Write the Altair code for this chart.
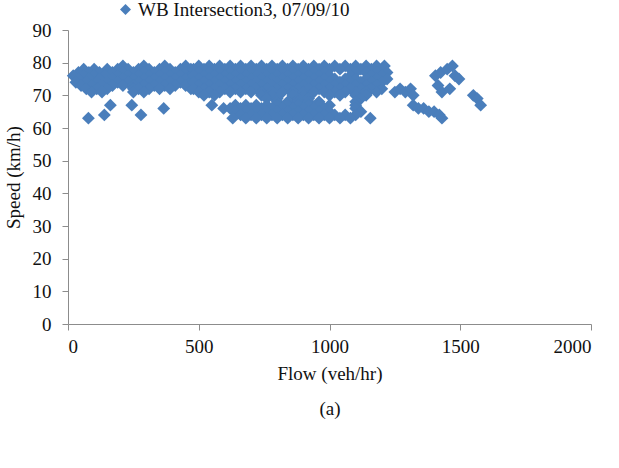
import altair as alt
import pandas as pd

SERIES = "WB Intersection3, 07/09/10"
BLUE = "#4A7EBB"
FONT = "Liberation Serif"

# Speed levels (km/h) and, for each level, the observed flows (veh/hr)
# in the free-flow band up to about 480 veh/hr
left_band = {
    79: [210, 290, 370, 450],
    78: [60, 100, 150, 190, 230, 270, 310, 350, 390, 430, 470],
    77: [40, 80, 120, 170, 210, 250, 290, 330, 370, 410, 450],
    76: [20, 60, 100, 140, 190, 230, 270, 310, 350, 390, 430, 470],
    75: [40, 80, 120, 170, 210, 250, 290, 330, 370, 410, 450],
    74: [30, 70, 110, 150, 190, 230, 270, 310, 350, 390, 430, 470],
    73: [50, 90, 130, 170, 210, 250, 290, 330, 370, 410, 450],
    72: [70, 110, 150, 250, 270, 310, 350, 390, 470],
    71: [90, 130, 250, 290],
}

# Main band between about 480 and 1220 veh/hr
mid_band = {
    79: [500, 540, 580, 620, 660, 700, 740, 780, 820, 860, 900, 940, 980, 1020, 1060, 1100, 1140, 1180, 1210],
    78: [480, 520, 560, 600, 640, 680, 720, 760, 800, 840, 880, 920, 960, 1000, 1040, 1080, 1120, 1160, 1200],
    77: [500, 540, 580, 620, 660, 700, 740, 780, 820, 860, 900, 940, 980, 1100, 1140, 1180, 1220],
    76: [480, 520, 560, 600, 640, 680, 720, 760, 800, 840, 880, 920, 960, 1000, 1080, 1160, 1200],
    75: [500, 540, 580, 620, 660, 700, 740, 780, 820, 860, 900, 940, 980, 1020, 1060, 1100, 1140, 1180, 1220],
    74: [480, 520, 560, 600, 640, 680, 720, 760, 800, 840, 880, 920, 960, 1000, 1040, 1080, 1120, 1160, 1200],
    73: [500, 540, 580, 620, 660, 700, 740, 780, 820, 860, 900, 940, 980, 1020, 1060, 1100, 1140, 1180],
    72: [480, 520, 560, 600, 640, 680, 720, 760, 800, 840, 880, 920, 960, 1000, 1040, 1080, 1120, 1160, 1200],
    71: [500, 540, 580, 620, 660, 700, 740, 780, 820, 860, 900, 940, 980, 1020, 1060, 1100, 1140, 1180],
    70: [520, 560, 740, 780, 860, 900, 1000, 1040, 1100, 1140],
}

# Congested observations below the main band
lower_band = {
    69: [760, 800, 880, 920, 1120],
    68: [800, 840, 880, 920, 960, 1100],
    67: [550, 640, 680, 720, 760, 800, 840, 880, 920, 960, 1000, 1100],
    66: [595, 620, 660, 700, 740, 780, 820, 860, 900, 940, 980, 1100],
    65: [640, 680, 720, 760, 800, 840, 880, 920, 960, 1000, 1120],
    64: [660, 700, 740, 780, 820, 860, 900, 940, 980, 1020, 1060, 1100],
    63: [630, 680, 720, 760, 800, 840, 880, 920, 960, 1000, 1040, 1080, 1156],
}

# Scattered slow observations at low flow
slow_flow = [78, 139, 162, 244, 279, 366]
slow_speed = [63, 64, 67, 67, 64, 66]

# High-flow tail beyond the main band
tail_flow = [1250, 1270, 1290, 1310, 1320, 1320, 1340, 1360, 1380, 1400, 1420, 1430,
             1405, 1425, 1450, 1470, 1480, 1495, 1415, 1430, 1460, 1550, 1565, 1578]
tail_speed = [71, 72, 71, 72, 70, 67, 66, 66, 65, 65, 64, 63,
              76, 77, 78, 79, 76, 75, 73, 71, 72, 70, 69, 67]

flows, speeds = slow_flow + tail_flow, slow_speed + tail_speed
for band in (left_band, mid_band, lower_band):
    for spd, fl in band.items():
        flows += fl
        speeds += [spd] * len(fl)

df = pd.DataFrame({"flow": flows, "speed": speeds, "series": SERIES})

chart = alt.Chart(df).mark_point(
    shape="diamond", filled=True, size=165, opacity=1
).encode(
    x=alt.X("flow:Q",
            scale=alt.Scale(domain=[0, 2000], nice=False),
            axis=alt.Axis(values=[0, 500, 1000, 1500, 2000], format="d",
                          title=["Flow (veh/hr)", "(a)"],
                          titleLineHeight=35, titlePadding=8, labelPadding=7)),
    y=alt.Y("speed:Q",
            scale=alt.Scale(domain=[0, 90], nice=False),
            axis=alt.Axis(values=list(range(0, 91, 10)), format="d", title="Speed (km/h)",
                          titlePadding=9, labelPadding=11)),
    color=alt.Color("series:N", scale=alt.Scale(range=[BLUE]),
                    legend=alt.Legend(title=None, orient="none", legendX=48, legendY=-30,
                                      symbolType="diamond", symbolSize=120, padding=0,
                                      labelFont=FONT, labelFontSize=19, labelColor="#111",
                                      labelOffset=3, labelLimit=0)),
).properties(
    width=523, height=294,
    autosize=alt.AutoSizeParams(type="none"),
    padding={"left": 68, "top": 30, "right": 28, "bottom": 144},
).configure_view(
    stroke=None
).configure_axis(
    grid=False, domainColor="#8c8c8c", tickColor="#8c8c8c", tickSize=6,
    labelFont=FONT, labelFontSize=19, labelColor="#111",
    titleFont=FONT, titleFontSize=19, titleColor="#111", titleFontWeight="normal",
)

chart.save("out.html", embed_options={"renderer": "svg", "actions": False})
